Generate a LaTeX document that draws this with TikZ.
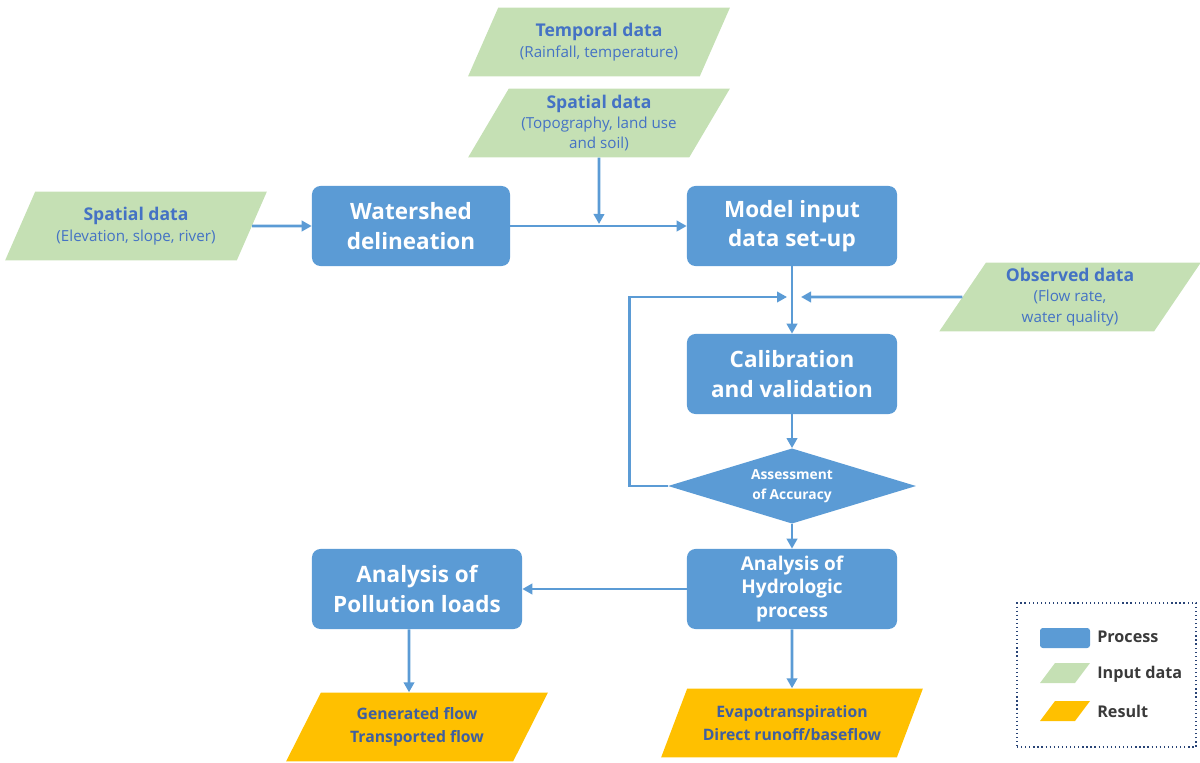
\documentclass[tikz,border=0pt]{standalone}
\usepackage{fontspec}
\setmainfont{Open Sans}
\usetikzlibrary{arrows.meta,positioning,shapes.geometric}
\definecolor{procblue}{HTML}{5B9BD5}
\definecolor{inputgreen}{HTML}{C5E0B4}
\definecolor{resultyellow}{HTML}{FFC000}
\definecolor{txtblue}{HTML}{4472C4}
\definecolor{restxt}{HTML}{3F5F9F}
\definecolor{lgdgray}{HTML}{3A3A3A}
\newcommand{\datatitle}[1]{{\fontsize{12.5}{16}\selectfont\bfseries #1}}
\tikzset{
  procbox/.style={fill=procblue, rounded corners=6pt, text=white, align=center, minimum width=5.25cm,
                  minimum height=2cm, font=\fontsize{16}{21}\selectfont\bfseries, inner sep=2pt},
  slanted/.style={trapezium, trapezium left angle=59, trapezium right angle=121, trapezium stretches=true,
                  align=center, inner sep=1pt, minimum width=6.55cm, minimum height=1.72cm},
  inbox/.style={slanted, fill=inputgreen, text=txtblue, font=\fontsize{10.8}{14.5}\selectfont},
  resbox/.style={slanted, fill=resultyellow, text=restxt, font=\fontsize{11.2}{16}\selectfont\bfseries},
  decbox/.style={diamond, aspect=3.3, fill=procblue, text=white, align=center, minimum width=6.2cm,
                 minimum height=1.88cm, inner sep=0pt, font=\fontsize{9.8}{14}\selectfont\bfseries},
  arr/.style={-{Triangle[length=2.5mm,width=2.6mm]}, line width=2pt, draw=procblue},
  lgdtext/.style={text=lgdgray, font=\fontsize{11.5}{13}\selectfont\bfseries, anchor=west, inner sep=0pt},
}
\begin{document}
\begin{tikzpicture}[x=0.025cm, y=-0.025cm]
  \useasboundingbox (0,0) rectangle (1200,762);
  % input data
  \node[inbox] (temp) at (599,42) {\datatitle{Temporal data}\\(Rainfall, temperature)};
  \node[inbox] (topo) at (599,123) {\datatitle{Spatial data}\\(Topography, land use\\and soil)};
  \node[inbox] (elev) at (136,226) {\datatitle{Spatial data}\\(Elevation, slope, river)};
  \node[inbox] (obs) at (1070,297) {\datatitle{Observed data}\\(Flow rate,\\water quality)};
  % process
  \node[procbox, minimum width=4.95cm] (shed) at (411,226) {Watershed\\delineation};
  \node[procbox] (setup) at (792,226) {Model input\\data set-up};
  \node[procbox] (calib) at (792,374) {Calibration\\and validation};
  \node[decbox] (acc) at (792,486) {Assessment\\of Accuracy};
  \node[procbox, font=\fontsize{13.5}{17}\selectfont\bfseries] (hydro) at (792,589) {Analysis of\\Hydrologic\\process};
  \node[procbox] (poll) at (417,589) {Analysis of\\Pollution loads};
  % results
  \node[resbox] (gen) at (417,727) {Generated flow\\Transported flow};
  \node[resbox] (evap) at (792,723) {Evapotranspiration\\Direct runoff/baseflow};
  % connectors
  \coordinate (topoin) at (599,224);
  \coordinate (loopin) at (787,297);
  \coordinate (obsin) at (801,297);
  \draw[arr] (elev.east) -- (shed.west);
  \draw[arr] (shed.east) -- (setup.west);
  \draw[arr] (topo.south) -- (topoin);
  \draw[arr] (setup.south) -- (calib.north);
  \draw[arr] (obs.west) -- (obsin);
  \draw[arr] (acc.west) -- ++(-38,0) |- (loopin);
  \draw[arr] (calib.south) -- (acc.north);
  \draw[arr] (acc.south) -- (hydro.north);
  \draw[arr] (hydro.west) -- (poll.east);
  \draw[arr] ([xshift=-0.2cm]poll.south) -- ([xshift=-0.2cm]gen.north);
  \draw[arr] (hydro.south) -- (evap.north);
  % legend
  \node[draw=txtblue!60!black, dotted, line width=0.9pt, minimum width=4.475cm, minimum height=3.6cm] (lgd) at (1106.5,675) {};
  \node[fill=procblue, rounded corners=2pt, minimum width=1.25cm, minimum height=0.5cm] (lgproc) at (1065,638) {};
  \node[slanted, fill=inputgreen, trapezium left angle=53, trapezium right angle=127, minimum width=1.25cm, minimum height=0.5cm] (lginput) at (1065,673) {};
  \node[slanted, fill=resultyellow, trapezium left angle=53, trapezium right angle=127, minimum width=1.25cm, minimum height=0.5cm] (lgres) at (1065,711) {};
  \node[lgdtext] (lgproctxt) at (1097,637) {Process};
  \node[lgdtext] (lginputtxt) at (1097,674) {Input data};
  \node[lgdtext] (lgrestxt) at (1097,711) {Result};
\end{tikzpicture}
\end{document}
